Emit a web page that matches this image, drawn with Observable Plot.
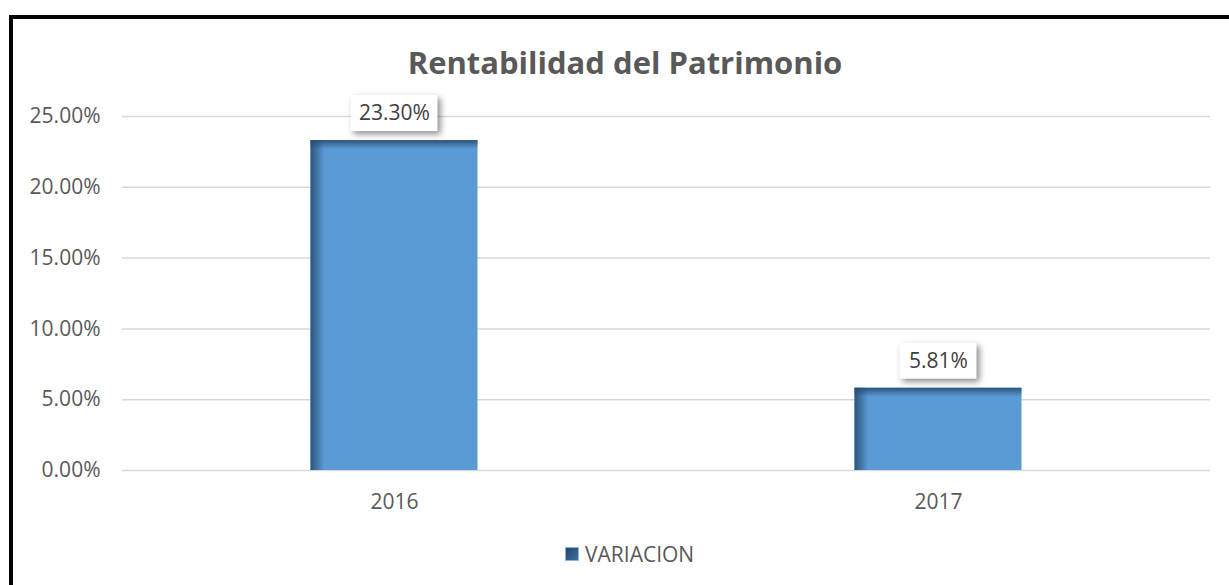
<!DOCTYPE html>
<html><head><meta charset="utf-8">
<script src="https://cdn.jsdelivr.net/npm/d3@7"></script>
<script src="https://cdn.jsdelivr.net/npm/@observablehq/plot@0.6"></script>
<style>
body{margin:0;background:#fff;}
#wrap{position:relative;width:1229px;height:585px;overflow:hidden;font-family:"Open Sans",sans-serif;background:#fff;}
#frame{position:absolute;left:9px;top:15px;width:1300px;height:700px;border:4px solid #000;box-sizing:border-box;}
#title{position:absolute;left:9px;width:1232px;top:40px;height:44px;line-height:44px;text-align:center;font-weight:bold;font-size:31px;color:#595959;}
#chart{position:absolute;left:0;top:80px;}
#legend{position:absolute;left:565px;top:542px;height:24px;line-height:24px;font-size:21px;color:#595959;display:flex;align-items:center;}
#legend .sw{width:14px;height:14px;margin-right:6px;background:linear-gradient(135deg,#23466c,#3f6f9f);border:1px solid #8db4dc;box-sizing:border-box;}
.lblbox{filter:drop-shadow(3px 3px 3px rgba(0,0,0,0.45));}
</style>
</head><body>
<div id="wrap">
  <div id="frame"></div>
  <div id="title"></div>
  <div id="chart"></div>
  <div id="legend"><div class="sw"></div><span id="legtext"></span></div>
</div>
<script>
const chartTitle = "Rentabilidad del Patrimonio";
const seriesName = "VARIACION";
const years = ["2016", "2017"];
const values = [0.2330, 0.0581];
const valueLabels = ["23.30%", "5.81%"];
const yTicks = [0, 0.05, 0.10, 0.15, 0.20, 0.25];

document.getElementById("title").textContent = chartTitle;
document.getElementById("legtext").textContent = seriesName;

const data = years.map((y, i) => ({year: y, value: values[i], label: valueLabels[i]}));

const W = 1229, ML = 122, MR = 19;
const band = (W - ML - MR) / years.length;
const barW = 167;
const inset = (band - barW) / 2;

const boxMarks = data.map(d => {
  const bw = d.label.length * 10 + 27;
  const bi = (band - bw) / 2;
  return Plot.barY([d], {x: "year", y1: "value", y2: "value", fill: "#fff",
    insetLeft: bi, insetRight: bi, insetTop: -45, insetBottom: 9, className: "lblbox"});
});

const svg = Plot.plot({
  width: W, height: 450,
  marginLeft: ML, marginRight: MR, marginTop: 36, marginBottom: 60,
  style: {fontSize: "21px", fontFamily: "Open Sans", color: "#595959", background: "transparent"},
  x: {domain: years, padding: 0, label: null},
  y: {domain: [0, 0.25], label: null},
  marks: [
    Plot.gridY(yTicks, {stroke: "#d9d9d9", strokeOpacity: 1, strokeWidth: 1.5}),
    Plot.axisY(yTicks, {tickFormat: d3.format(".2%"), tickSize: 0, tickPadding: 22, label: null, fill: "#595959"}),
    Plot.axisX({tickSize: 0, tickPadding: 24, label: null, fill: "#595959"}),
    Plot.barY(data, {x: "year", y: "value", fill: "#5B9BD5", insetLeft: inset, insetRight: inset}),
    Plot.barY(data, {x: "year", y: "value", fill: "url(#gradL)", insetLeft: inset, insetRight: inset + barW - 14}),
    Plot.barY(data, {x: "year", y1: "value", y2: "value", fill: "url(#gradT)", insetLeft: inset, insetRight: inset, insetTop: 0, insetBottom: -9}),
    ...boxMarks,
    Plot.text(data, {x: "year", y: "value", text: "label", dy: -27, fill: "#404040", fontSize: 21, lineAnchor: "middle"})
  ]
});

const NS = "http://www.w3.org/2000/svg";
const defs = document.createElementNS(NS, "defs");
function grad(id, x2, y2, c) {
  const g = document.createElementNS(NS, "linearGradient");
  g.setAttribute("id", id);
  g.setAttribute("x1", "0"); g.setAttribute("y1", "0");
  g.setAttribute("x2", x2); g.setAttribute("y2", y2);
  [[0, 0.85], [1, 0]].forEach(([o, a]) => {
    const s = document.createElementNS(NS, "stop");
    s.setAttribute("offset", o);
    s.setAttribute("stop-color", c);
    s.setAttribute("stop-opacity", a);
    g.appendChild(s);
  });
  defs.appendChild(g);
}
grad("gradL", "1", "0", "#24476d");
grad("gradT", "0", "1", "#24476d");
svg.insertBefore(defs, svg.firstChild);
document.getElementById("chart").appendChild(svg);
</script>
</body></html>
